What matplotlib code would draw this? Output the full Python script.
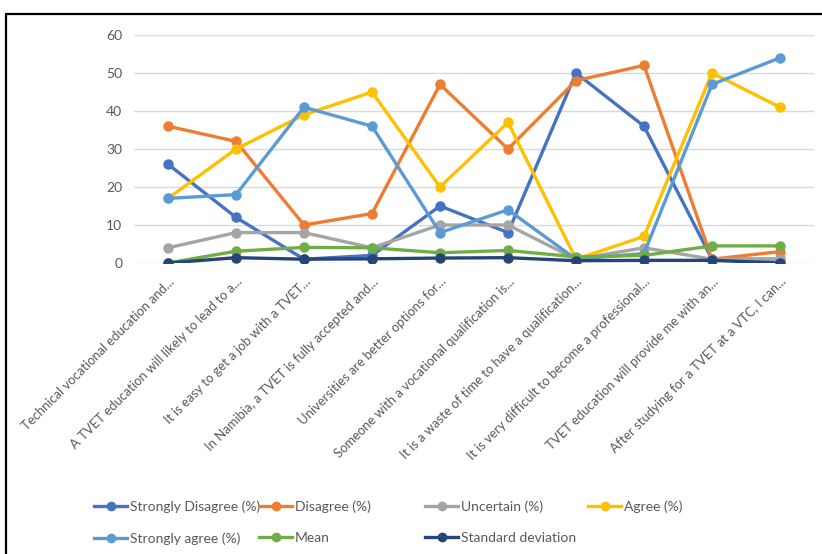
import matplotlib.pyplot as plt
from matplotlib.patches import Rectangle
from matplotlib.lines import Line2D

plt.rcParams['font.family'] = ['Lato', 'DejaVu Sans']

statements = [
    'Technical vocational education and...',
    'A TVET education will likely to lead to a...',
    'It is easy to get a job with a TVET...',
    'In Namibia, a TVET is fully accepted and...',
    'Universities are better options for...',
    'Someone with a vocational qualification is...',
    'It is a waste of time to have a qualification...',
    'It is very difficult to become a professional...',
    'TVET education will provide me with an...',
    'After studying for a TVET at a VTC, I can...',
]

strongly_disagree = [26, 12, 1, 2, 15, 8, 50, 36, 1, 1]
disagree = [36, 32, 10, 13, 47, 30, 48, 52, 1, 3]
uncertain = [4, 8, 8, 4, 10, 10, 1, 4, 1, 1]
agree = [17, 30, 39, 45, 20, 37, 1, 7, 50, 41]
strongly_agree = [17, 18, 41, 36, 8, 14, 1, 2.5, 47, 54]
mean = [0, 3.1, 4.1, 4.0, 2.7, 3.3, 1.6, 2.0, 4.5, 4.5]
std_dev = [0, 1.4, 1.0, 1.1, 1.3, 1.4, 0.6, 0.7, 0.7, 0]

series = [
    ('Strongly Disagree (%)', strongly_disagree, '#4472C4'),
    ('Disagree (%)', disagree, '#ED7D31'),
    ('Uncertain (%)', uncertain, '#A5A5A5'),
    ('Agree (%)', agree, '#FFC000'),
    ('Strongly agree (%)', strongly_agree, '#5B9BD5'),
    ('Mean', mean, '#70AD47'),
    ('Standard deviation', std_dev, '#264478'),
]

fig = plt.figure(figsize=(8.22, 5.54), dpi=100)
ax = fig.add_axes([134 / 822, 1 - 263 / 554, 680 / 822, 228 / 554])

x = list(range(len(statements)))
lines = {}
for name, vals, col in series:
    ln, = ax.plot(x, vals, '-o', color=col, lw=2.4, ms=6.5, label=name,
                  solid_joinstyle='round', zorder=3)
    lines[name] = ln

ax.set_xlim(-0.5, len(statements) - 0.5)
ax.set_ylim(0, 60)
ax.set_yticks(range(0, 61, 10))
ax.grid(True, axis='y', color='#D9D9D9', lw=1)
ax.set_axisbelow(True)
for s in ax.spines.values():
    s.set_visible(False)
ax.tick_params(axis='both', length=0, colors='#595959', labelsize=10)
ax.tick_params(axis='y', pad=8.5)
ax.set_xticks(x)
ax.set_xticklabels(statements, rotation=45, ha='right', rotation_mode='anchor', fontsize=9.4)
ax.tick_params(axis='x', pad=9)

# legend laid out in fixed-width columns, like the spreadsheet one
columns = [
    ['Strongly Disagree (%)', 'Strongly agree (%)'],
    ['Disagree (%)', 'Mean'],
    ['Uncertain (%)', 'Standard deviation'],
    ['Agree (%)'],
]
col_x = [94, 259, 425, 588]
for names, cx in zip(columns, col_x):
    handles = [Line2D([], [], color=lines[n].get_color(), lw=2.4, marker='o', ms=6)
               for n in names]
    fig.legend(handles, names, loc='upper left', bbox_to_anchor=(cx / 822, 1 - 500 / 554),
               frameon=False, handlelength=2.4, handletextpad=0.2, labelspacing=1.4,
               borderaxespad=0, borderpad=0, fontsize=10, labelcolor='#595959',
               numpoints=1)

fig.patches.append(Rectangle((6 / 822, -0.1), 1.1, 1.1 - 14 / 554, transform=fig.transFigure,
                             fill=False, edgecolor='black', lw=1.6, figure=fig))

fig.savefig('out.png', dpi=100)
